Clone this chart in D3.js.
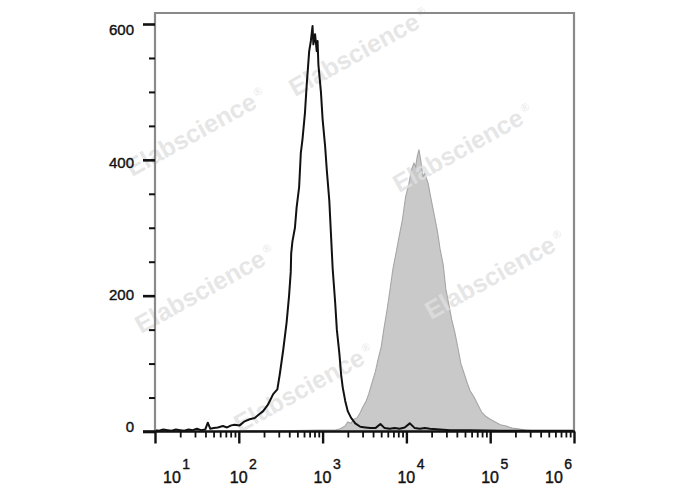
<!DOCTYPE html>
<html>
<head>
<meta charset="utf-8">
<script src="https://cdn.jsdelivr.net/npm/d3@7"></script>
<style>
  html, body { margin: 0; padding: 0; background: #fff; }
  svg { display: block; }
  text { font-family: "Liberation Sans", Arial, sans-serif; }
</style>
</head>
<body>
<svg id="chart" width="688" height="490"></svg>
<script>
// ---- Data (log10 of fluorescence intensity, event counts) ----
const blackLogX = [1.00,1.05,1.10,1.15,1.20,1.25,1.30,1.35,1.40,1.45,1.50,1.55,1.60,1.63,1.66,1.70,1.75,1.81,1.86,1.91,1.95,2.01,2.07,2.13,2.19,2.25,2.29,2.34,2.37,2.41,2.46,2.49,2.53,2.57,2.60,2.62,2.625,2.64,2.67,2.69,2.72,2.74,2.76,2.79,2.81,2.84,2.86,2.88,2.89,2.91,2.93,2.94,2.95,2.98,3.00,3.03,3.05,3.08,3.10,3.12,3.15,3.17,3.20,3.22,3.24,3.27,3.30,3.34,3.39,3.45,3.51,3.57,3.63,3.69,3.74,3.80,3.86,3.92,3.98,4.04,4.10,4.16,4.22,4.28,4.40,4.52,4.76,5.12,5.59,6.00];
const blackCounts = [2,1,3,2,1,3,2,1,3,2,4,2,3,13,4,5,6,8,6,9,10,9,15,18,20,26,30,38,45,55,62,85,120,160,200,235,262,280,300,330,360,410,430,470,510,560,575,597,570,585,560,575,540,500,460,420,385,340,290,240,190,150,115,85,65,45,30,20,12,7,6,5,5,11,5,4,5,4,6,12,5,4,5,4,3,2,2,1,1,1];

const grayLogX = [2.01,2.49,2.97,3.15,3.21,3.27,3.30,3.34,3.37,3.41,3.45,3.48,3.52,3.55,3.59,3.63,3.66,3.70,3.73,3.77,3.80,3.84,3.88,3.91,3.95,3.99,4.03,4.06,4.09,4.11,4.13,4.15,4.17,4.20,4.22,4.26,4.29,4.33,4.37,4.40,4.44,4.47,4.51,4.54,4.58,4.62,4.65,4.69,4.73,4.76,4.81,4.85,4.90,4.95,5.00,5.06,5.12,5.19,5.26,5.33,5.42,5.53,5.71,6.00];
const grayCounts = [1,1,2,2,4,8,14,12,18,20,28,36,45,55,72,88,105,125,150,180,205,240,265,285,310,345,365,385,395,390,405,415,400,375,380,365,345,320,295,270,245,210,185,165,145,120,100,85,70,60,50,40,28,22,18,14,10,8,5,4,2,1,0,0];

const yMajorTicks = [0, 200, 400, 600];
const yMinorTicks = [50,100,150,250,300,350,450,500,550];
const xDecades = [1, 2, 3, 4, 5, 6];
const watermarkText = "Elabscience";

// ---- Layout ----
const svg = d3.select("#chart");
const pLeft = 155, pRight = 574, pTop = 13, pBottom = 431.5;

const x = d3.scaleLog().domain([10, 1e6]).range([pLeft, pRight]);
const y = d3.scaleLinear().domain([0, 600]).range([pBottom, 24]);
const yLabel = d3.scaleLinear().domain([0, 600]).range([427, 30]);

// gray filled histogram
const area = d3.area()
  .x((d) => x(Math.pow(10, d[0])))
  .y0(y(0))
  .y1((d) => y(d[1]));
const grayData = grayLogX.map((l, i) => [l, grayCounts[i]]);
svg.append("path")
  .datum(grayData)
  .attr("d", area)
  .attr("fill", "#c9c9c9")
  .attr("stroke", "#a6a6a6")
  .attr("stroke-width", 1.1);

// watermarks
const wm = [[295, 97], [132, 177], [399, 193], [141, 334], [431, 320], [240, 433]];
const wmG = svg.append("g");
wm.forEach(([wx, wy]) => {
  const t = wmG.append("text")
    .attr("transform", `translate(${wx},${wy}) rotate(-29)`)
    .attr("font-size", 25)
    .attr("font-weight", "bold")
    .attr("fill", "#e0e0e0")
    .attr("fill-opacity", 0.8);
  t.append("tspan").text(watermarkText);
  t.append("tspan").attr("font-size", 11).attr("font-weight", "normal").attr("dx", 3).attr("dy", -10).text("®");
});

// black line histogram
const line = d3.line()
  .x((d) => x(Math.pow(10, d[0])))
  .y((d) => y(d[1]));
const blackData = blackLogX.map((l, i) => [l, blackCounts[i]]);
svg.append("path")
  .datum(blackData)
  .attr("d", line)
  .attr("fill", "none")
  .attr("stroke", "#111")
  .attr("stroke-width", 2)
  .attr("stroke-linejoin", "round");

// frame (top, right, left in gray)
svg.append("path")
  .attr("d", `M${pLeft},${pBottom} V${pTop} H${pRight} V${pBottom}`)
  .attr("fill", "none")
  .attr("stroke", "#8a8a8a")
  .attr("stroke-width", 2.2);

// y axis ticks
const yMajAxis = d3.axisLeft(y).tickValues(yMajorTicks).tickSize(12).tickFormat("");
const yMinAxis = d3.axisLeft(y).tickValues(yMinorTicks).tickSize(6).tickFormat("");
const gyMaj = svg.append("g").attr("transform", `translate(${pLeft},0)`).call(yMajAxis);
const gyMin = svg.append("g").attr("transform", `translate(${pLeft},0)`).call(yMinAxis);
[gyMaj, gyMin].forEach((g) => g.select(".domain").remove());
gyMaj.selectAll("line").attr("stroke", "#111").attr("stroke-width", 2.6);
gyMin.selectAll("line").attr("stroke", "#111").attr("stroke-width", 2);

// y labels
svg.append("g").selectAll("text")
  .data(yMajorTicks)
  .join("text")
  .attr("x", 134)
  .attr("y", (d) => yLabel(d))
  .attr("dy", "0.36em")
  .attr("text-anchor", "end")
  .attr("font-size", 15)
  .attr("fill", "#111")
  .attr("stroke", "#111")
  .attr("stroke-width", 0.4)
  .text((d) => d);

// x axis ticks
const xMinor = [];
for (let d = 1; d < 6; d++) for (let m = 2; m <= 9; m++) xMinor.push(m * Math.pow(10, d));
const xMajAxis = d3.axisBottom(x).tickValues(xDecades.map((d) => Math.pow(10, d))).tickSize(12).tickFormat("");
const xMinAxis = d3.axisBottom(x).tickValues(xMinor).tickSize(6).tickFormat("");
const gxMaj = svg.append("g").attr("transform", `translate(0,${pBottom})`).call(xMajAxis);
const gxMin = svg.append("g").attr("transform", `translate(0,${pBottom})`).call(xMinAxis);
[gxMaj, gxMin].forEach((g) => g.select(".domain").remove());
gxMaj.selectAll("line").attr("stroke", "#111").attr("stroke-width", 2.4);
gxMin.selectAll("line").attr("stroke", "#111").attr("stroke-width", 1.8);

// x axis line (black)
svg.append("line")
  .attr("x1", 143).attr("x2", pRight + 1)
  .attr("y1", pBottom).attr("y2", pBottom)
  .attr("stroke", "#111").attr("stroke-width", 2.4);

// x labels (10^n)
const labelShift = { 1: 17, 6: -20 };
const xl = svg.append("g").selectAll("text")
  .data(xDecades)
  .join("text")
  .attr("x", (d) => x(Math.pow(10, d)) + (labelShift[d] || 0) - 9)
  .attr("y", 482.5)
  .attr("font-size", 16)
  .attr("fill", "#111")
  .attr("stroke", "#111")
  .attr("stroke-width", 0.4);
xl.append("tspan").text("10");
xl.append("tspan").attr("dx", 1.5).attr("dy", -14).attr("font-size", 14).text((d) => d);
</script>
</body>
</html>
